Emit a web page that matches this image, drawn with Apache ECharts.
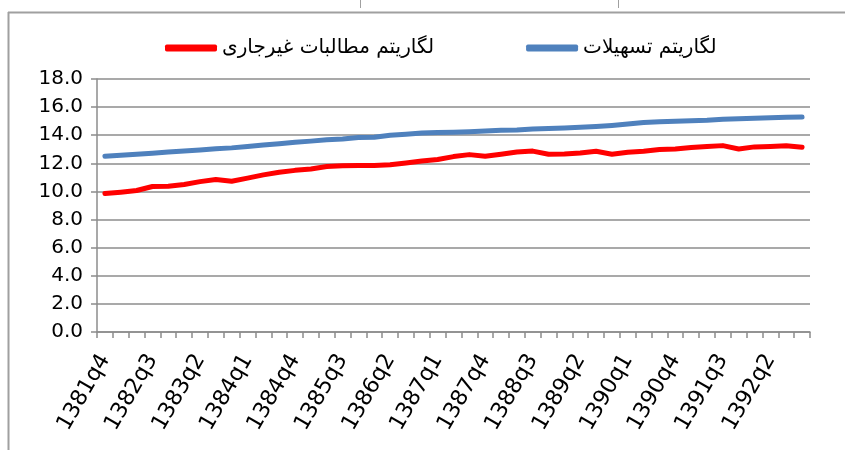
<!DOCTYPE html>
<html>
<head>
<meta charset="utf-8">
<script src="https://cdn.jsdelivr.net/npm/echarts@6/dist/echarts.min.js"></script>
<style>html,body{margin:0;padding:0;background:#fff}#c{width:845px;height:450px}</style>
</head>
<body>
<div id="c"></div>
<script>
var categories = ['1381q4',
  '1382q1','1382q2','1382q3','1382q4',
  '1383q1','1383q2','1383q3','1383q4',
  '1384q1','1384q2','1384q3','1384q4',
  '1385q1','1385q2','1385q3','1385q4',
  '1386q1','1386q2','1386q3','1386q4',
  '1387q1','1387q2','1387q3','1387q4',
  '1388q1','1388q2','1388q3','1388q4',
  '1389q1','1389q2','1389q3','1389q4',
  '1390q1','1390q2','1390q3','1390q4',
  '1391q1','1391q2','1391q3','1391q4',
  '1392q1','1392q2','1392q3','1392q4'];

var nonPerformingLog = [9.85, 9.95, 10.07, 10.35, 10.37, 10.5, 10.7, 10.85, 10.73, 10.95,
  11.18, 11.37, 11.5, 11.6, 11.77, 11.82, 11.85, 11.85, 11.9, 12.03,
  12.17, 12.27, 12.48, 12.62, 12.5, 12.65, 12.8, 12.87, 12.65, 12.67,
  12.74, 12.86, 12.65, 12.79, 12.86, 12.98, 13.02, 13.12, 13.2, 13.26,
  13.02, 13.17, 13.2, 13.25, 13.14];

var facilitiesLog = [12.5, 12.57, 12.65, 12.72, 12.8, 12.87, 12.95, 13.03, 13.1, 13.2,
  13.3, 13.4, 13.5, 13.58, 13.67, 13.73, 13.83, 13.85, 14.0, 14.07,
  14.16, 14.2, 14.22, 14.25, 14.3, 14.35, 14.37, 14.44, 14.48, 14.52,
  14.56, 14.62, 14.7, 14.8, 14.9, 14.96, 15.0, 15.03, 15.06, 15.13,
  15.17, 15.2, 15.25, 15.28, 15.3];

var seriesNames = ['لگاریتم مطالبات غیرجاری', 'لگاریتم تسهیلات'];

var gray = '#8c8c8c';
var font = 'DejaVu Sans';
var chart = echarts.init(document.getElementById('c'));
chart.setOption({
  animation: false,
  backgroundColor: '#fff',
  graphic: [
    {type: 'line', shape: {x1: 8.5, y1: 12, x2: 8.5, y2: 450}, style: {stroke: '#a0a0a0', lineWidth: 2}},
    {type: 'line', shape: {x1: 8, y1: 12.5, x2: 845, y2: 12.5}, style: {stroke: '#a0a0a0', lineWidth: 2}},
    {type: 'line', shape: {x1: 360.5, y1: 0, x2: 360.5, y2: 8}, style: {stroke: '#a0a0a0', lineWidth: 1}},
    {type: 'line', shape: {x1: 618.5, y1: 0, x2: 618.5, y2: 8}, style: {stroke: '#a0a0a0', lineWidth: 1}}
  ],
  legend: {
    left: 160,
    top: 33,
    itemWidth: 52,
    itemHeight: 7,
    itemGap: 92,
    icon: 'roundRect',
    textStyle: {fontFamily: font, fontSize: 20, color: '#000'},
    data: seriesNames
  },
  grid: {left: 97, right: 35, top: 79, bottom: 118},
  xAxis: {
    type: 'category',
    data: categories,
    boundaryGap: true,
    axisLine: {lineStyle: {color: gray, width: 1.5}},
    axisTick: {show: true, interval: 0, length: 6, lineStyle: {color: gray, width: 1.5}},
    axisLabel: {interval: 2, rotate: 60, fontFamily: font, fontSize: 22, color: '#000', margin: 24}
  },
  yAxis: {
    type: 'value',
    min: 0, max: 18, interval: 2,
    axisLine: {show: true, lineStyle: {color: gray, width: 1.5}},
    axisTick: {show: true, length: 6, lineStyle: {color: gray, width: 1.5}},
    axisLabel: {fontFamily: font, fontSize: 20, color: '#000', margin: 14,
      formatter: function (v) { return v.toFixed(1); }},
    splitLine: {lineStyle: {color: gray, width: 1.5}}
  },
  series: [
    {name: seriesNames[0], type: 'line', data: nonPerformingLog, showSymbol: false, symbol: 'none',
      color: '#ff0000', lineStyle: {width: 5, color: '#ff0000', cap: 'round', join: 'round'}},
    {name: seriesNames[1], type: 'line', data: facilitiesLog, showSymbol: false, symbol: 'none',
      color: '#4f81bd', lineStyle: {width: 5, color: '#4f81bd', cap: 'round', join: 'round'}}
  ]
});
</script>
</body>
</html>
